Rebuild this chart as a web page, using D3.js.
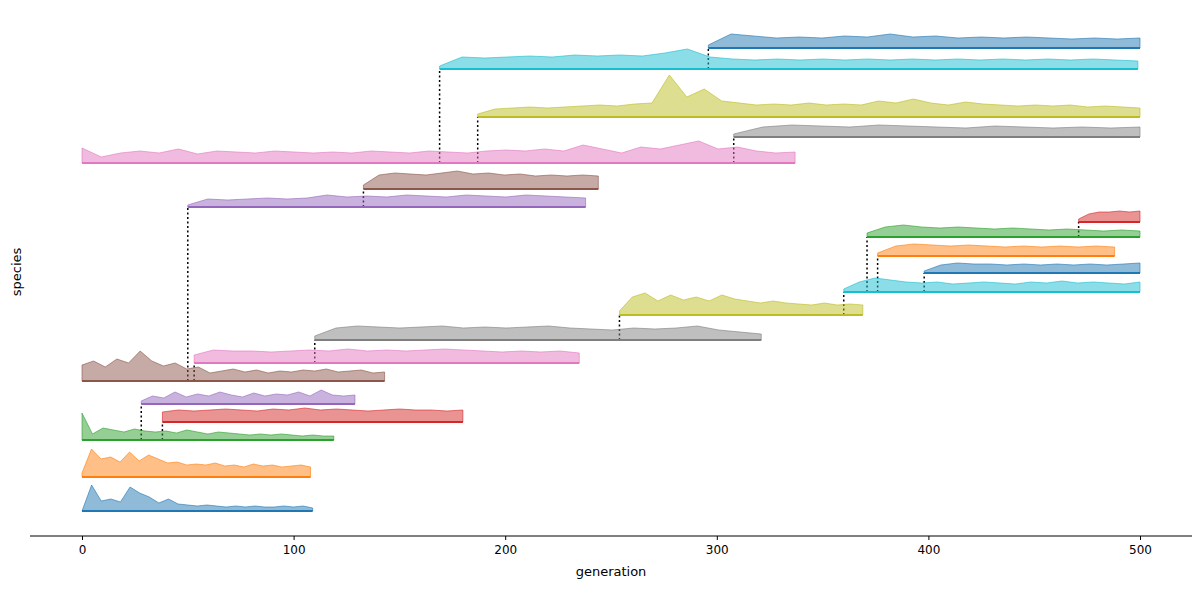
<!DOCTYPE html>
<html><head><meta charset="utf-8">
<script src="https://cdn.jsdelivr.net/npm/d3@7"></script>
<style>body{margin:0;background:#fff}text{font-family:"DejaVu Sans",sans-serif}</style>
</head><body><div id="chart"></div>
<script>
// species lifetimes (generations), stacking offsets (data units), parent index
const starts = [0,0,0,38,28,0,53,110,254,360,398,376,371,471,50,133,0,308,187,169,296];
const ends   = [109,108,119,180,129,143,235,321,369,500,500,488,500,500,238,244,337,500,500,499,500];
const offsets = [25,59,96,114,132,155,173,196,221,244,263,280,299,314,329,347,373,399,419,467,488];
const parents = [null,null,null,2,2,null,5,6,7,8,9,9,9,12,5,14,null,16,16,16,19];
// population samples spread evenly over each lifetime
const pops = [
  [0,26,10,12,9,24,18,14,8,12,7,6,5,6,5,4,5,4,5,4,4,5,4,5,3],
  [4,28,18,20,15,25,16,22,18,14,15,12,13,12,14,11,12,10,13,11,12,10,11,12,10],
  [27,6,12,10,8,11,9,8,9,7,10,8,6,8,7,6,5,6,5,6,5,4,5,4,4],
  [10,12,11,12,13,12,11,13,12,14,12,13,12,11,12,13,12,12,11,12],
  [3,8,6,12,7,10,8,12,9,7,11,8,10,9,12,8,14,9,8,9],
  [16,20,14,22,18,30,20,15,18,12,14,8,10,12,9,11,8,10,9,11,10,12,9,10,11,8,9],
  [8,13,12,12,11,12,13,12,14,12,13,12,13,14,13,12,11,12,11,12,10],
  [4,12,14,13,12,13,14,12,13,12,13,14,12,11,10,12,11,12,14,10,8,6],
  [4,18,22,14,20,15,18,14,20,16,14,12,14,12,11,10,12,10,11,10],
  [3,10,14,12,10,9,10,8,9,10,9,8,10,9,11,9,10,9,8,10],
  [2,8,10,9,9,8,9,8,9,8,9,8,9,10],
  [3,10,12,11,10,11,10,9,10,9,10,9,10,9],
  [4,10,12,10,9,10,9,8,9,8,7,8,7,6,7,6],
  [3,8,10,10,11,10,11],
  [2,8,7,8,9,8,9,12,10,11,10,12,11,10,12,11,10,12,11,10,9],
  [4,14,16,15,14,16,18,15,16,14,15,13,14,13,14,13],
  [15,6,10,12,10,14,9,12,11,10,12,11,10,11,10,12,11,10,12,11,10,12,13,12,14,12,18,14,10,16,14,18,22,14,16,12,10,11],
  [3,10,12,11,10,12,11,10,9,11,10,9,10,9,10],
  [3,8,9,10,9,10,11,12,11,13,14,42,20,28,16,14,12,13,12,14,12,13,12,16,14,18,14,12,15,13,12,11,12,11,12,10,11,10,9],
  [3,12,11,12,13,12,14,13,14,13,16,20,12,10,9,10,9,10,9,10,9,10,9,10,9,10,9,10,9,10,9,8],
  [3,14,12,10,11,10,12,11,14,11,12,10,11,10,11,10,9,10,9,10]
];
const xTicks = [0,100,200,300,400,500];

const W = 1202, H = 589;
const svg = d3.select("#chart").append("svg").attr("width", W).attr("height", H);
const x = d3.scaleLinear().domain([0,500]).range([82,1140]);
const y = d3.scaleLinear().domain([0,510]).range([536,26]);
const color = i => d3.schemeCategory10[i % 10];

const series = pops.map((p, i) => p.map((v, j) => ({
  g: starts[i] + j * (ends[i] - starts[i]) / (p.length - 1), v, base: offsets[i]
})));

const area = d3.area().x(d => x(d.g)).y0(d => y(d.base)).y1(d => y(d.base + d.v));

// lineage links
svg.append("g").selectAll("line").data(parents.map((p, i) => ({p, i})).filter(d => d.p !== null))
  .enter().append("line")
  .attr("x1", d => x(starts[d.i])).attr("x2", d => x(starts[d.i]))
  .attr("y1", d => y(offsets[d.p])).attr("y2", d => y(offsets[d.i]))
  .attr("stroke", "black").attr("stroke-width", 1.5).attr("stroke-dasharray", "2,2.5");

const sp = svg.append("g").selectAll("g").data(series).enter().append("g");
sp.append("path").attr("d", area)
  .attr("fill", (d, i) => color(i)).attr("fill-opacity", 0.5)
  .attr("stroke", (d, i) => color(i)).attr("stroke-opacity", 0.6).attr("stroke-width", 1);
sp.append("line")
  .attr("x1", (d, i) => x(starts[i])).attr("x2", (d, i) => x(ends[i]))
  .attr("y1", (d, i) => y(offsets[i])).attr("y2", (d, i) => y(offsets[i]))
  .attr("stroke", (d, i) => color(i)).attr("stroke-width", 2);

const ax = svg.append("g").attr("transform", "translate(0,536)")
  .call(d3.axisBottom(x).tickValues(xTicks).tickSize(4).tickPadding(5));
ax.select(".domain").attr("d", "M30,0H1192");
ax.selectAll("text").style("font-size", "12px").style("font-family", "DejaVu Sans");

svg.append("text").attr("x", 611).attr("y", 576).attr("text-anchor", "middle")
  .style("font-size", "13px").text("generation");
svg.append("text").attr("transform", "translate(21,272) rotate(-90)").attr("text-anchor", "middle")
  .style("font-size", "13px").text("species");
</script></body></html>
